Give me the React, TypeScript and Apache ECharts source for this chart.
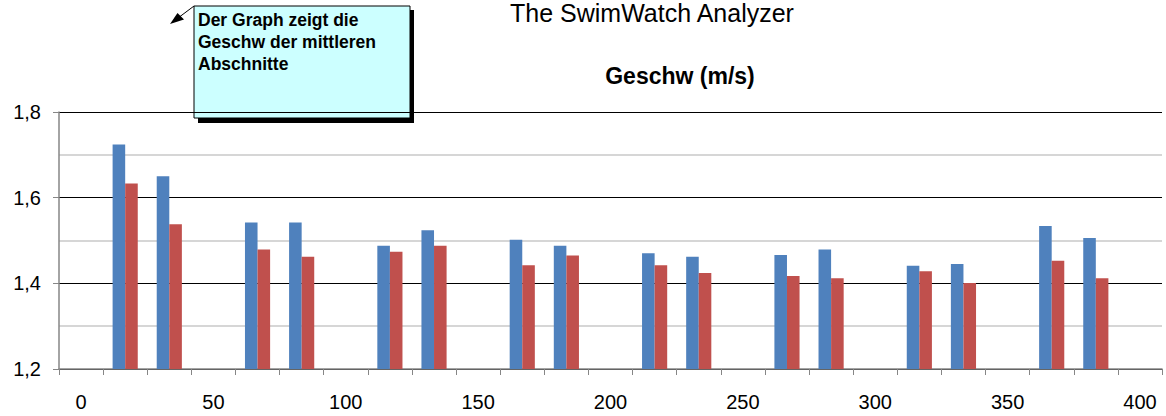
import React, { useEffect, useRef } from "react";
import * as echarts from "echarts";

const categories = ["0", "17", "33", "50", "67", "83", "100", "117", "133", "150", "167", "183", "200", "217", "233", "250", "267", "283", "300", "317", "333", "350", "367", "383", "400"];
const blueValues = [null, 1.724, 1.65, null, 1.542, 1.542, null, 1.488, 1.524, null, 1.502, 1.488, null, 1.47, 1.462, null, 1.466, 1.479, null, 1.441, 1.445, null, 1.534, 1.506, null];
const redValues = [null, 1.633, 1.538, null, 1.479, 1.462, null, 1.474, 1.488, null, 1.442, 1.465, null, 1.442, 1.424, null, 1.417, 1.412, null, 1.428, 1.401, null, 1.453, 1.412, null];
const mainTitle = "The SwimWatch Analyzer";
const chartTitle = "Geschw (m/s)";
const noteLines = ["Der Graph zeigt die", "Geschw der mittleren", "Abschnitte"];

export default function App() {
  const ref = useRef<HTMLDivElement>(null);
  useEffect(() => {
    document.body.style.margin = "0";
    const chart = echarts.init(ref.current!, null, { renderer: "svg" });
    const font = "Liberation Sans, Arial, sans-serif";
    chart.setOption({
      animation: false,
      backgroundColor: "#ffffff",
      grid: { left: 59, right: 4, top: 112, bottom: 47 },
      xAxis: {
        type: "category",
        data: categories,
        boundaryGap: true,
        axisLine: { lineStyle: { color: "#868686", width: 1.5 } },
        axisTick: { show: true, interval: 0, length: 6, lineStyle: { color: "#868686", width: 1 } },
        axisLabel: { interval: 2, color: "#000", fontFamily: font, fontSize: 20, margin: 23 },
        splitLine: { show: false },
      },
      yAxis: {
        type: "value",
        min: 1.2,
        max: 1.8,
        interval: 0.2,
        axisLine: { show: true, lineStyle: { color: "#868686", width: 1.5 } },
        axisTick: { show: true, length: 6, lineStyle: { color: "#868686" } },
        axisLabel: {
          color: "#000",
          fontFamily: font,
          fontSize: 20,
          margin: 18,
          formatter: (v: number) => v.toFixed(1).replace(".", ","),
        },
        splitLine: { show: true, lineStyle: { color: "#000", width: 1 } },
        minorTick: { show: false, splitNumber: 2 },
        minorSplitLine: { show: true, lineStyle: { color: "#c8c8c8", width: 1.5 } },
      },
      series: [
        {
          type: "bar",
          data: blueValues,
          barGap: "0%",
          barCategoryGap: "43%",
          itemStyle: { color: "#4f81bd" },
        },
        {
          type: "bar",
          data: redValues,
          barGap: "0%",
          barCategoryGap: "43%",
          itemStyle: { color: "#c0504d" },
        },
      ],
      graphic: [
        {
          type: "text",
          x: 652,
          y: 13,
          style: { text: mainTitle, font: `25px ${font}`, fill: "#000", textAlign: "center", textVerticalAlign: "middle" },
        },
        {
          type: "text",
          x: 680,
          y: 76,
          style: { text: chartTitle, font: `bold 23px ${font}`, fill: "#000", textAlign: "center", textVerticalAlign: "middle" },
        },
        {
          type: "line",
          shape: { x1: 194, y1: 6, x2: 178, y2: 18 },
          style: { stroke: "#000", lineWidth: 1 },
        },
        {
          type: "polygon",
          shape: { points: [[170, 24], [184, 19.5], [177.5, 13]] },
          style: { fill: "#000" },
        },
        {
          type: "rect",
          shape: { x: 198, y: 10, width: 216, height: 113 },
          style: { fill: "#000" },
        },
        {
          type: "rect",
          shape: { x: 194, y: 6, width: 216, height: 112 },
          style: { fill: "#ccffff", stroke: "#000", lineWidth: 1 },
        },
        ...noteLines.map((t, i) => ({
          type: "text",
          x: 198,
          y: 20 + i * 22.2,
          style: { text: t, font: `bold 17.5px ${font}`, fill: "#000", textAlign: "left", textVerticalAlign: "middle" },
        })),
      ],
    });
    return () => chart.dispose();
  }, []);
  return <div ref={ref} style={{ width: 1166, height: 416 }} />;
}
